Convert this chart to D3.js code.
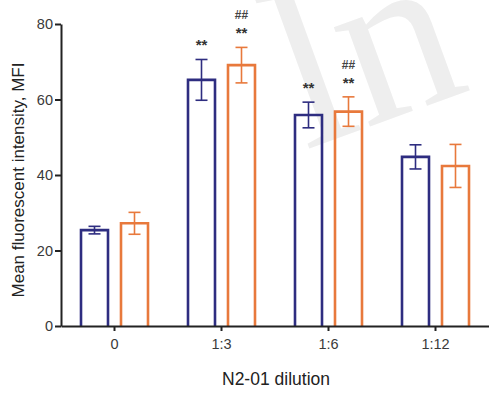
<!DOCTYPE html>
<html><head><meta charset="utf-8">
<script src="https://cdn.jsdelivr.net/npm/d3@7"></script>
<style>body{margin:0;background:#fff}svg{display:block}</style>
</head><body><svg id="c" width="489" height="394"></svg>
<script>
const categories = ["0", "1:3", "1:6", "1:12"];
const series = ["A", "B"];
const meansA = [25.4, 65.2, 55.9, 44.8];
const errA = [1.0, 5.4, 3.4, 3.2];
const meansB = [27.2, 69.1, 56.8, 42.4];
const errB = [2.9, 4.7, 3.9, 5.7];
const starsA = ["", "**", "**", ""];
const starsB = ["", "**", "**", ""];
const hashB = ["", "##", "##", ""];
const yTicks = [0, 20, 40, 60, 80];
const colors = ["#2e2d80", "#e8793c"];
const font = "Liberation Sans, Arial, sans-serif";

const svg = d3.select("#c");
// watermark
svg.append("text").attr("transform","translate(305,150) rotate(-20)")
  .attr("font-family","Liberation Serif, serif").attr("font-size",230)
  .attr("fill","#eeeeee").text("ln");

const x = d3.scaleBand().domain(categories).range([61, 489]).padding(0);
const y = d3.scaleLinear().domain([0, 80]).range([326, 24]);
const sub = d3.scaleBand().domain(series).range([-40, 40]).padding(0);

const rows = categories.map((c,i)=>[
  {c, s:"A", v:meansA[i], e:errA[i], col:colors[0], star:starsA[i], hash:""},
  {c, s:"B", v:meansB[i], e:errB[i], col:colors[1], star:starsB[i], hash:hashB[i]}
]).flat();

const cx = d => x(d.c) + x.bandwidth()/2 + sub(d.s) + sub.bandwidth()/2;
const bw = 27;

const g = svg.append("g");
g.selectAll("path.bar").data(rows).join("path")
  .attr("d", d=>{const p=d3.path(); p.moveTo(cx(d)-bw/2, y(0)); p.lineTo(cx(d)-bw/2, y(d.v)); p.lineTo(cx(d)+bw/2, y(d.v)); p.lineTo(cx(d)+bw/2, y(0)); return p.toString();})
  .attr("fill","none").attr("stroke", d=>d.col).attr("stroke-width",2.6);

const eb = g.selectAll("g.eb").data(rows).join("g").attr("stroke", d=>d.col).attr("stroke-width",1.6);
eb.append("line").attr("x1",cx).attr("x2",cx).attr("y1",d=>y(d.v+d.e)).attr("y2",d=>y(d.v-d.e));
eb.append("line").attr("x1",d=>cx(d)-6).attr("x2",d=>cx(d)+6).attr("y1",d=>y(d.v+d.e)).attr("y2",d=>y(d.v+d.e));
eb.append("line").attr("x1",d=>cx(d)-6).attr("x2",d=>cx(d)+6).attr("y1",d=>y(d.v-d.e)).attr("y2",d=>y(d.v-d.e));

g.selectAll("text.star").data(rows.filter(d=>d.star)).join("text")
  .attr("x",cx).attr("y",d=>y(d.v+d.e)-9).attr("text-anchor","middle")
  .attr("font-family",font).attr("font-size",15).attr("font-weight","bold")
  .attr("fill","#333").text(d=>d.star);
g.selectAll("text.hash").data(rows.filter(d=>d.hash)).join("text")
  .attr("x",cx).attr("y",d=>y(d.v+d.e)-28).attr("text-anchor","middle")
  .attr("font-family",font).attr("font-size",12).attr("font-weight","bold")
  .attr("fill","#444").text(d=>d.hash);

const yAxis = svg.append("g").attr("transform","translate(61,0)")
  .call(d3.axisLeft(y).tickValues(yTicks).tickSize(6).tickSizeOuter(0));
const xAxis = svg.append("g").attr("transform","translate(0,326)")
  .call(d3.axisBottom(x).tickSize(5).tickSizeOuter(0));
[yAxis, xAxis].forEach(a=>{
  a.select(".domain").attr("stroke","#222").attr("stroke-width",2);
  a.selectAll(".tick line").attr("stroke","#222").attr("stroke-width",2);
  a.selectAll(".tick text").attr("font-family",font).attr("font-size",14.5).attr("fill","#3a3a3a");
});
yAxis.selectAll(".tick text").attr("x",-8);
xAxis.selectAll(".tick text").attr("y",13);

svg.append("text").attr("transform","translate(24,180) rotate(-90)").attr("text-anchor","middle")
  .attr("font-family",font).attr("font-size",17).attr("fill","#222")
  .text("Mean fluorescent intensity, MFI");
svg.append("text").attr("x",276).attr("y",385).attr("text-anchor","middle")
  .attr("font-family",font).attr("font-size",17.5).attr("fill","#222")
  .text("N2-01 dilution");
</script></body></html>
